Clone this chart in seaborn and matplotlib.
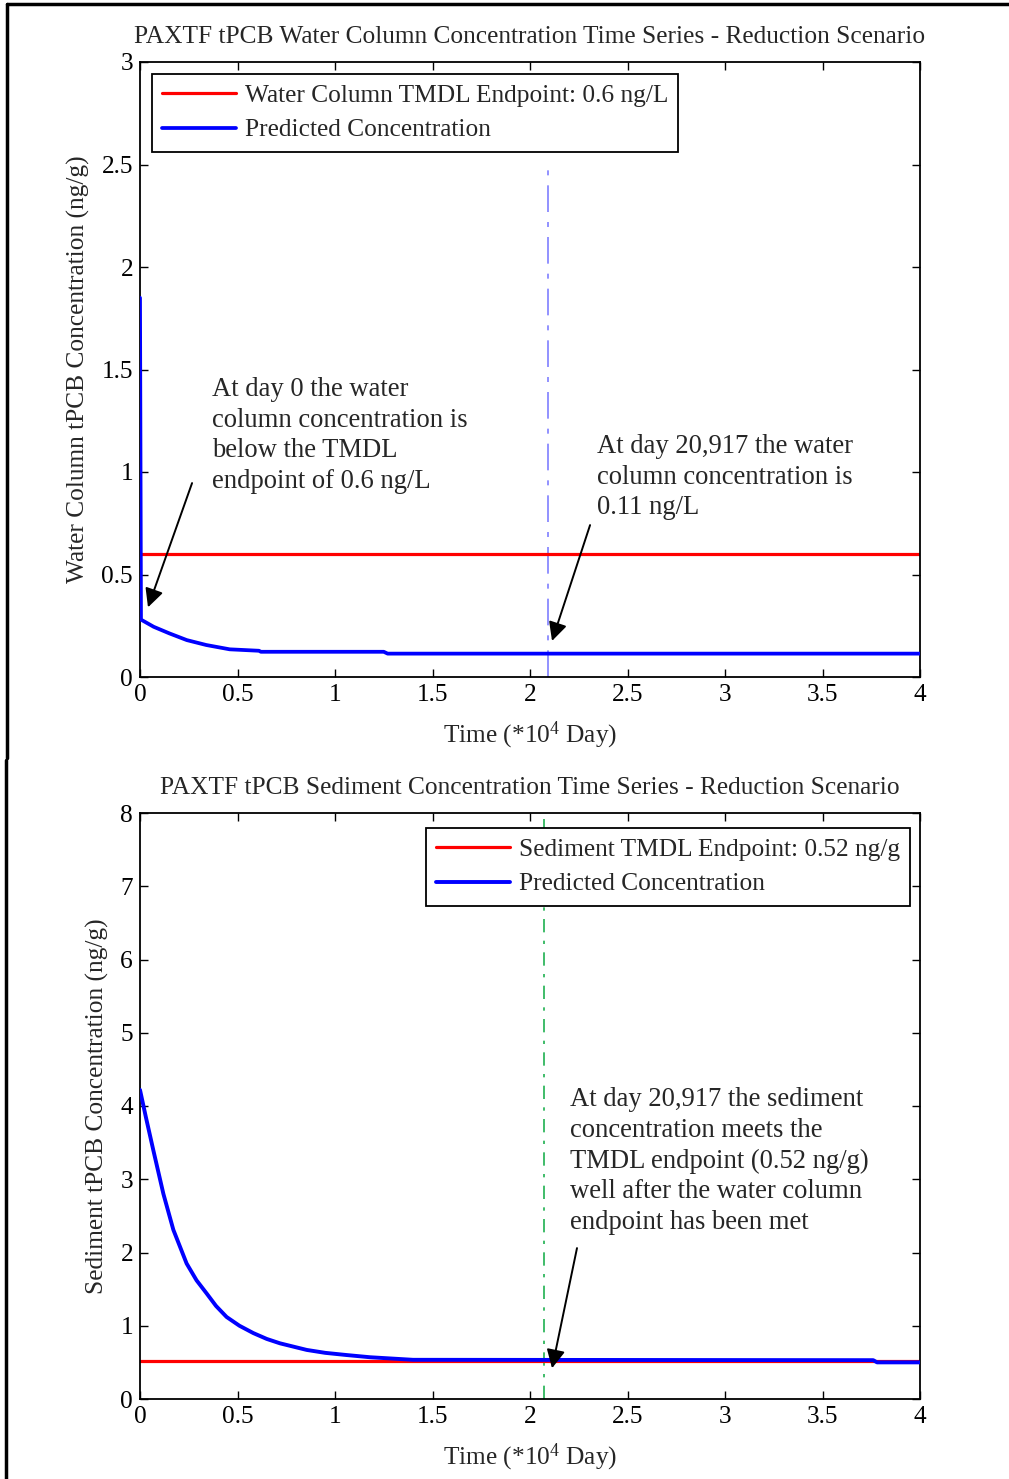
import numpy as np
import pandas as pd
import matplotlib
matplotlib.use("Agg")
import matplotlib.pyplot as plt
from matplotlib.lines import Line2D
import seaborn as sns

# ---------------- data ----------------
wc_time = [0, 0.005, 0.07, 0.15, 0.24, 0.34, 0.46, 0.61, 0.62, 1.25, 1.27, 4.0]
wc_conc = [1.85, 0.28, 0.245, 0.213, 0.18, 0.156, 0.135, 0.128, 0.123, 0.123, 0.114, 0.114]
wc_endpoint = 0.6

sed_time = [0, 0.03, 0.068, 0.12, 0.171, 0.239, 0.29, 0.342, 0.39, 0.444, 0.51, 0.581,
            0.65, 0.718, 0.855, 0.95, 1.06, 1.18, 1.4, 3.76, 3.78, 4.0]
sed_conc = [4.22, 3.85, 3.40, 2.80, 2.31, 1.85, 1.62, 1.44, 1.27, 1.12, 1.00, 0.90,
            0.82, 0.76, 0.67, 0.63, 0.60, 0.57, 0.535, 0.53, 0.50, 0.50]
sed_endpoint = 0.52

event_day = 2.0917  # *10^4 days

x_ticks = [0, 0.5, 1, 1.5, 2, 2.5, 3, 3.5, 4]
x_ticklabels = ["0", "0.5", "1", "1.5", "2", "2.5", "3", "3.5", "4"]
wc_yticks = [0, 0.5, 1, 1.5, 2, 2.5, 3]
wc_yticklabels = ["0", "0.5", "1", "1.5", "2", "2.5", "3"]
sed_yticks = [0, 1, 2, 3, 4, 5, 6, 7, 8]
sed_yticklabels = ["0", "1", "2", "3", "4", "5", "6", "7", "8"]

wc_title = "PAXTF tPCB Water Column Concentration Time Series - Reduction Scenario"
sed_title = "PAXTF tPCB Sediment Concentration Time Series - Reduction Scenario"
xlabel = "Time (*10$^{4}$ Day)"
wc_ylabel = "Water Column tPCB Concentration (ng/g)"
sed_ylabel = "Sediment tPCB Concentration (ng/g)"
wc_legend = ["Water Column TMDL Endpoint: 0.6 ng/L", "Predicted Concentration"]
sed_legend = ["Sediment TMDL Endpoint: 0.52 ng/g", "Predicted Concentration"]
wc_note1 = "At day 0 the water\ncolumn concentration is\nbelow the TMDL\nendpoint of 0.6 ng/L"
wc_note2 = "At day 20,917 the water\ncolumn concentration is\n0.11 ng/L"
sed_note = ("At day 20,917 the sediment\nconcentration meets the\nTMDL endpoint (0.52 ng/g)\n"
            "well after the water column\nendpoint has been met")

# ---------------- style ----------------
sns.set_style("ticks")
plt.rcParams["font.family"] = ["Liberation Serif", "DejaVu Serif"]
plt.rcParams["mathtext.fontset"] = "custom"
plt.rcParams["mathtext.rm"] = "Liberation Serif"
plt.rcParams["mathtext.it"] = "Liberation Serif:italic"
FS = 18.3
FS_NOTE = 19.2
LS = 1.3

fig = plt.figure(figsize=(10.09, 14.79), dpi=100)
W, H = 1009, 1479

def px_axes(l, t, r, b):
    return fig.add_axes([l / W, 1 - b / H, (r - l) / W, (b - t) / H])

ax1 = px_axes(140, 62, 920, 677)
ax2 = px_axes(140, 813, 920, 1399)

wc_df = pd.DataFrame({"time": wc_time, "conc": wc_conc})
sed_df = pd.DataFrame({"time": sed_time, "conc": sed_conc})

def style_axes(ax, yticks, yticklabels, ylim):
    ax.set_xlim(0, 4)
    ax.set_ylim(*ylim)
    ax.set_xticks(x_ticks)
    ax.set_xticklabels(x_ticklabels, fontsize=FS)
    ax.set_yticks(yticks)
    ax.set_yticklabels(yticklabels, fontsize=FS)
    ax.tick_params(direction="in", length=6, width=1, top=True, right=True,
                   colors="black", pad=5)
    for s in ax.spines.values():
        s.set_visible(True)
        s.set_color("black")
        s.set_linewidth(1.3)
    ax.set_xlabel(xlabel, fontsize=FS, labelpad=10)

leg_kw = dict(borderaxespad=0, fontsize=FS, frameon=True, fancybox=False, framealpha=1,
              edgecolor="black", handlelength=2.9, handletextpad=0.35,
              borderpad=0.4, labelspacing=0.45)

# ---- top panel ----
ax1.plot([event_day, event_day], [0, 2.5], color="#7f7fff", lw=1.2,
         linestyle=(0, (16, 6, 3, 6)), zorder=1)
ax1.axhline(wc_endpoint, color="#ff0000", lw=2.3, label=wc_legend[0], zorder=2)
sns.lineplot(data=wc_df, x="time", y="conc", ax=ax1, color="#0000ff", lw=2.7,
             label=wc_legend[1], estimator=None, sort=False, zorder=3)
style_axes(ax1, wc_yticks, wc_yticklabels, (0, 3))
ax1.set_ylabel(wc_ylabel, fontsize=FS, labelpad=8)
ax1.set_title(wc_title, fontsize=FS, pad=14)
leg1 = ax1.legend(loc="upper left", bbox_to_anchor=(0.0154, 0.980), **leg_kw)
leg1.get_frame().set_linewidth(1.3)

ax1.text(0.369, 1.463, wc_note1, fontsize=FS_NOTE, va="top", ha="left", linespacing=LS)
ax1.text(2.344, 1.185, wc_note2, fontsize=FS_NOTE, va="top", ha="left", linespacing=LS)
arrow = dict(arrowstyle="-|>", color="black", lw=1.4, mutation_scale=28,
             shrinkA=0, shrinkB=0)
ax1.annotate("", xy=(0.041, 0.34), xytext=(0.267, 0.946), arrowprops=arrow)
ax1.annotate("", xy=(2.113, 0.176), xytext=(2.308, 0.741), arrowprops=arrow)

# ---- bottom panel ----
ax2.plot([event_day - 0.02, event_day - 0.02], [0, 8], color="#1fb050", lw=1.2,
         linestyle=(0, (8, 5, 2, 5)), zorder=1)
ax2.axhline(sed_endpoint, color="#ff0000", lw=2.3, label=sed_legend[0], zorder=2)
sns.lineplot(data=sed_df, x="time", y="conc", ax=ax2, color="#0000ff", lw=2.8,
             label=sed_legend[1], estimator=None, sort=False, zorder=3)
style_axes(ax2, sed_yticks, sed_yticklabels, (0, 8))
ax2.set_ylabel(sed_ylabel, fontsize=FS, labelpad=8)
ax2.set_title(sed_title, fontsize=FS, pad=14)
leg2 = ax2.legend(loc="upper right", bbox_to_anchor=(0.987, 0.974), **leg_kw)
leg2.get_frame().set_linewidth(1.3)
leg2.set_zorder(5)

ax2.text(2.205, 4.26, sed_note, fontsize=FS_NOTE, va="top", ha="left", linespacing=LS)
ax2.annotate("", xy=(2.113, 0.42), xytext=(2.241, 2.06), arrowprops=arrow)

# ---- page frame ----
fig.add_artist(Line2D([7 / W, 1.0], [1 - 4 / H, 1 - 4 / H], color="black", lw=2.5,
                      transform=fig.transFigure))
fig.add_artist(Line2D([7 / W, 7 / W], [1 - 4 / H, 1 - 758 / H], color="black", lw=2.5,
                      transform=fig.transFigure))
fig.add_artist(Line2D([6 / W, 6 / W], [1 - 760 / H, 0], color="black", lw=2.5,
                      transform=fig.transFigure))

fig.savefig("out.png", dpi=100)
